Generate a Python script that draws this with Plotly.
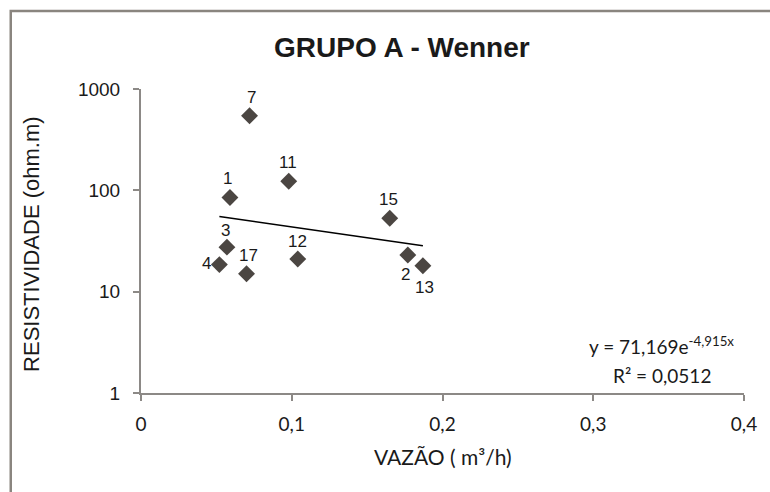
import numpy as np
import plotly.graph_objects as go

# Data
point_ids = ["7", "1", "11", "15", "3", "12", "4", "17", "2", "13"]
vazao = [0.072, 0.059, 0.098, 0.165, 0.057, 0.104, 0.052, 0.070, 0.177, 0.187]
resistividade = [545, 85, 123, 53, 27.5, 21, 18.5, 15, 23, 18]

# Exponential trendline parameters (as printed on chart)
trend_a = 71.169
trend_b = -4.915

x_ticks = [0, 0.1, 0.2, 0.3, 0.4]
x_ticktext = ["0", "0,1", "0,2", "0,3", "0,4"]
y_ticks = [1, 10, 100, 1000]
y_ticktext = ["1", "10", "100", "1000"]

# label offsets (pixels) relative to the point
label_shift = {
    "7": (2, 18), "1": (-2, 19), "11": (-1, 19), "15": (-1, 19), "3": (-1, 17),
    "12": (0, 18), "4": (-13, 1), "17": (2, 18), "2": (-2, -19), "13": (2, -22),
}

marker_color = "#4b4642"
axis_color = "#8c8986"

fig = go.Figure()

xt = np.linspace(min(vazao), max(vazao), 50)
fig.add_trace(go.Scatter(
    x=xt, y=trend_a * np.exp(trend_b * xt), mode="lines",
    line=dict(color="#000000", width=1.6), hoverinfo="skip", showlegend=False,
))
fig.add_trace(go.Scatter(
    x=vazao, y=resistividade, mode="markers",
    marker=dict(symbol="diamond", size=13, color=marker_color),
    showlegend=False,
))

for pid, xv, yv in zip(point_ids, vazao, resistividade):
    dx, dy = label_shift[pid]
    fig.add_annotation(
        x=xv, y=np.log10(yv), xref="x", yref="y", text=pid, showarrow=False,
        xshift=dx, yshift=dy, xanchor="center", yanchor="middle",
        font=dict(family="Liberation Sans, Arial", size=17, color="#1a1a1a"),
    )

def paper_note(x, y, text, family, size, angle=0):
    fig.add_annotation(
        x=x, y=y, xref="paper", yref="paper", text=text, showarrow=False,
        xanchor="center", yanchor="middle", textangle=angle,
        font=dict(family=family, size=size, color="#1a1a1a"),
    )

paper_note(0.433, 1.138, "<b>GRUPO A - Wenner</b>", "Liberation Sans, Arial", 28)
paper_note(-0.182, 0.488, "RESISTIVIDADE (ohm.m)", "Liberation Sans, Arial", 22, -90)
paper_note(0.5, -0.21, "VAZÃO ( m³/h)", "Lato", 21)
paper_note(0.864, 0.155, "y = 71,169e<sup>-4,915x</sup>", "Lato", 19)
paper_note(0.864, 0.058, "R² = 0,0512", "Lato", 19)

# outer chart border
fig.add_shape(
    type="rect", xref="paper", yref="paper",
    x0=-0.216, x1=1.3, y0=-0.5, y1=1.2566,
    line=dict(color="#8a857f", width=2.5),
)

fig.update_layout(
    width=770, height=492,
    margin=dict(l=141, r=26, t=89, b=99),
    paper_bgcolor="#ffffff", plot_bgcolor="#ffffff",
    showlegend=False,
)
fig.update_xaxes(
    range=[0, 0.4], tickvals=x_ticks, ticktext=x_ticktext,
    showgrid=False, zeroline=False, showline=True, linecolor=axis_color, linewidth=2,
    ticks="outside", ticklen=6, tickwidth=2, tickcolor=axis_color,
    ticklabelstandoff=7,
    tickfont=dict(family="Lato", size=19, color="#1a1a1a"),
)
fig.update_yaxes(
    type="log", range=[0, 3], tickvals=y_ticks, ticktext=y_ticktext,
    showgrid=False, zeroline=False, showline=True, linecolor=axis_color, linewidth=2,
    ticks="outside", ticklen=6, tickwidth=2, tickcolor=axis_color,
    ticklabelstandoff=9,
    tickfont=dict(family="Liberation Sans, Arial", size=19, color="#1a1a1a"),
)

fig.write_html("out.html")
